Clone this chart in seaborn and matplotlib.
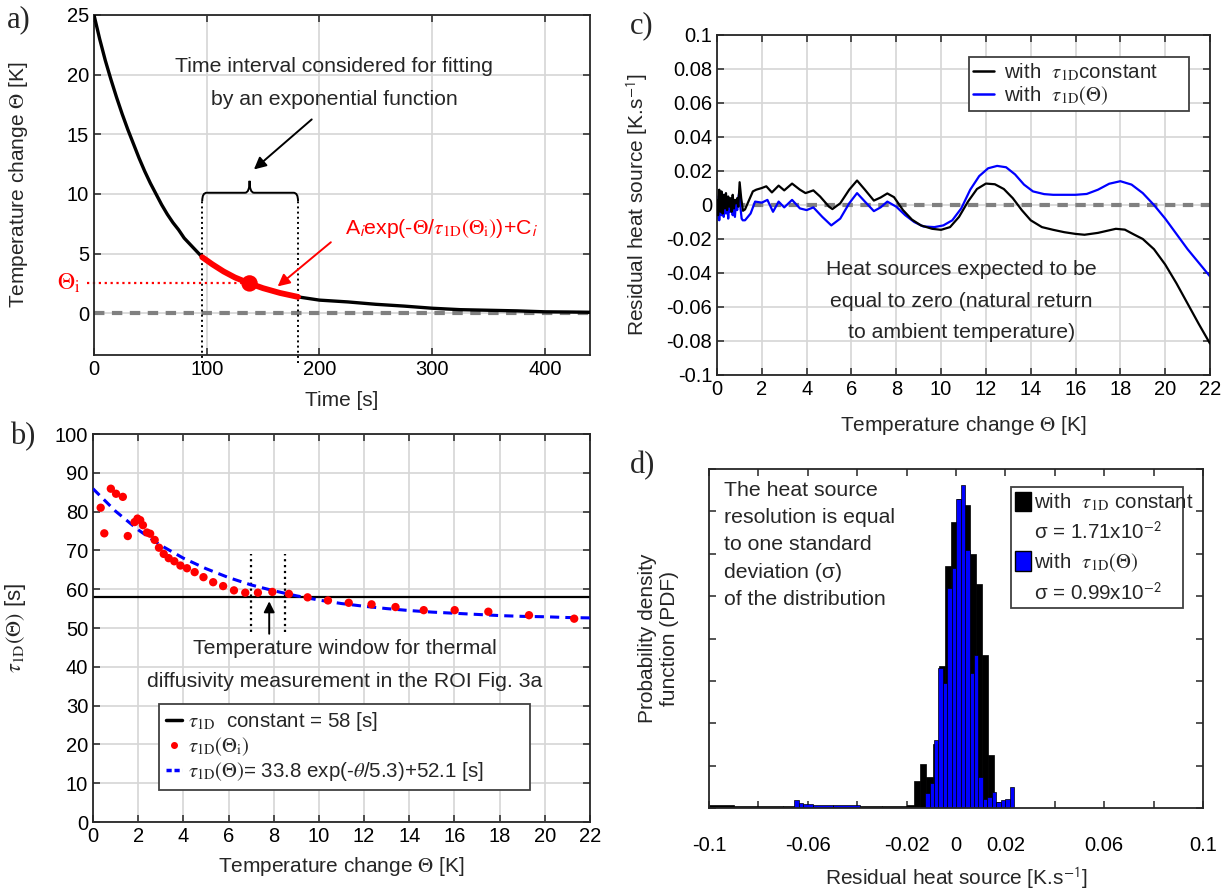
import numpy as np
import pandas as pd
import seaborn as sns
import matplotlib.pyplot as plt
from matplotlib.path import Path
from matplotlib.patches import PathPatch, Patch
from matplotlib.lines import Line2D
from matplotlib.ticker import FuncFormatter, NullFormatter


# a) natural cooling curve
time_s = [0, 5, 10, 15, 20, 25, 30, 35, 40, 45, 50, 55, 60, 65, 70, 75, 80, 85, 90, 96,
          105, 115, 125, 138, 150, 165, 181, 200, 225, 250, 275, 300, 325, 350, 375, 400,
          425, 440]
theta_K = [25.0, 23.0, 21.2, 19.6, 18.1, 16.7, 15.4, 14.2, 13.0, 11.9, 10.9, 10.0, 9.1,
           8.3, 7.6, 7.0, 6.3, 5.8, 5.3, 4.7, 4.1, 3.5, 3.0, 2.5, 2.1, 1.7, 1.37, 1.1, 0.95,
           0.75, 0.6, 0.42, 0.3, 0.25, 0.2, 0.12, 0.1, 0.08]
fit_start, fit_end = 96, 181
theta_i_time, theta_i = 138, 2.5

# b) time constant vs temperature change
tau_i_theta = [0.34, 0.50, 0.79, 1.02, 1.32, 1.54, 1.84, 1.97, 2.09, 2.21, 2.39, 2.53, 2.73,
               2.92, 3.13, 3.35, 3.60, 3.87, 4.16, 4.50, 4.89, 5.32, 5.76, 6.24, 6.74, 7.30,
               7.94, 8.67, 9.50, 10.4, 11.32, 12.33, 13.39, 14.64, 16.01, 17.5, 19.3, 21.3]
tau_i = [81.0, 74.4, 85.9, 84.6, 83.8, 73.7, 77.3, 78.2, 77.8, 76.5, 74.6, 74.3, 72.7,
         70.7, 69.1, 68.0, 67.2, 66.1, 65.4, 64.4, 63.1, 61.8, 60.8, 59.7, 59.1, 59.1,
         59.3, 58.8, 57.9, 57.1, 56.5, 56.1, 55.4, 54.6, 54.6, 54.2, 53.3, 52.4]
model_theta = list(range(0, 23))
model_tau = [85.9, 80.1, 75.3, 71.3, 68.0, 65.3, 63.0, 61.1, 59.6, 58.3, 57.2, 56.3,
             55.6, 55.0, 54.5, 54.1, 53.8, 53.5, 53.2, 53.0, 52.9, 52.7, 52.6]
tau_const = 58
window = [7.0, 8.5]

# c) residual heat source
c_theta_black = [0.0, 0.05, 0.1, 0.15, 0.2, 0.25, 0.3, 0.35, 0.4, 0.45, 0.5, 0.55, 0.6, 0.65,
                 0.7, 0.75, 0.8, 0.85, 0.9, 0.95, 1.01, 1.08, 1.16, 1.25, 1.6, 1.75, 2.0, 2.2,
                 2.45, 2.75, 3.0, 3.35, 3.7, 3.95, 4.3, 4.6, 5.0, 5.15, 5.5, 5.9, 6.25, 6.6,
                 7.0, 7.3, 7.6, 7.9, 8.3, 8.7, 9.1, 9.6, 10.0, 10.4, 10.8, 11.2, 11.6, 12.0,
                 12.4, 12.8, 13.2, 13.6, 14.0, 14.5, 15.0, 15.5, 16.0, 16.4, 17.0, 17.8, 18.2,
                 18.6, 19.0, 19.5, 20.0, 20.5, 21.0, 21.5, 22.0]
c_black = [0.003, -0.006, 0.009, -0.004, 0.008, -0.005, 0.006, -0.002, 0.007, -0.003, 0.005,
           -0.001, 0.004, -0.004, 0.006, -0.002, 0.003, 0.001, 0.004, -0.001, 0.0134, 0.004,
           -0.0034, -0.0026, 0.008, 0.009, 0.010, 0.011, 0.0074, 0.0114, 0.0086, 0.0126,
           0.009, 0.007, 0.0086, 0.005, -0.001, -0.0024, 0.001, 0.009, 0.0144, 0.009, 0.0026,
           0.0044, 0.0068, 0.0046, -0.003, -0.0086, -0.012, -0.014, -0.0146, -0.013, -0.007,
           0.002, 0.0094, 0.0126, 0.0122, 0.0094, 0.004, -0.003, -0.009, -0.013, -0.0146,
           -0.016, -0.017, -0.0175, -0.0164, -0.014, -0.0145, -0.0173, -0.020, -0.026, -0.035,
           -0.046, -0.058, -0.070, -0.0815]
c_theta_blue = [0.0, 0.05, 0.1, 0.15, 0.2, 0.25, 0.3, 0.35, 0.4, 0.45, 0.5, 0.55, 0.6, 0.65,
                0.7, 0.75, 0.8, 0.85, 0.9, 0.95, 1.0, 1.05, 1.1, 1.15, 1.25, 1.5, 1.7, 2.0,
                2.25, 2.5, 2.75, 3.0, 3.35, 3.7, 4.0, 4.3, 4.7, 5.1, 5.5, 5.9, 6.25, 6.6, 7.0,
                7.3, 7.6, 8.0, 8.4, 8.8, 9.2, 9.7, 10.1, 10.5, 10.9, 11.3, 11.7, 12.1, 12.5,
                12.9, 13.3, 13.7, 14.1, 14.6, 15.0, 16.0, 16.5, 17.0, 17.5, 18.0, 18.5, 19.0,
                19.5, 20.0, 20.5, 21.0, 21.5, 22.0]
c_blue = [-0.008, 0.005, -0.009, 0.007, -0.006, 0.004, -0.007, 0.006, -0.005, 0.003, -0.008,
          0.002, -0.004, 0.001, -0.006, 0.003, -0.007, 0.002, -0.003, 0.004, 0.008, -0.002,
          -0.008, -0.009, -0.009, -0.005, 0.002, 0.0014, 0.003, -0.004, 0.002, -0.0014, 0.003,
          -0.002, -0.003, -0.0014, -0.007, -0.012, -0.008, 0.001, 0.007, 0.002, -0.0036,
          -0.0014, 0.002, -0.001, -0.006, -0.010, -0.0126, -0.013, -0.012, -0.009, -0.002,
          0.009, 0.017, 0.0216, 0.023, 0.0222, 0.018, 0.012, 0.008, 0.0064, 0.006, 0.006,
          0.0065, 0.009, 0.0125, 0.014, 0.012, 0.007, 0.0, -0.008, -0.017, -0.026, -0.034,
          -0.042]

# d) histograms of residual heat source
black_edges = [-0.1, -0.09, -0.07, -0.05, -0.03, -0.02, -0.017, -0.0145, -0.012, -0.0095,
               -0.007, -0.0045, -0.002, 0.0005, 0.003, 0.0055, 0.008, 0.0105, 0.013, 0.0155,
               0.018]
black_pdf = [0.8, 0.5, 0.4, 0.4, 0.5, 0.8, 6.4, 10.5, 7.3, 15.0, 33.5, 57.0, 67.6, 73.0,
             71.5, 60.0, 52.9, 36.0, 12.5, 1.4]
blue_edges = [-0.0655, -0.0637, -0.0619, -0.058, -0.05, -0.0389, -0.0125, -0.0107, -0.0089,
              -0.0071, -0.0053, -0.0035, -0.0017, 0.0001, 0.0019, 0.0037, 0.0055, 0.0073,
              0.0091, 0.0109, 0.0127, 0.0145, 0.0163, 0.0181, 0.0199, 0.0217, 0.0235]
blue_pdf = [1.8, 1.2, 0.9, 0.7, 0.6, 0.0, 3.5, 5.8, 16.0, 33.0, 29.4, 51.9, 56.6, 73.0, 76.3,
            61.0, 31.8, 36.0, 7.3, 2.2, 2.6, 3.8, 1.4, 1.8, 2.2, 5.0]


sns.set_theme(style='ticks')
plt.rcParams['font.family'] = ['Liberation Sans', 'DejaVu Sans']
plt.rcParams['mathtext.fontset'] = 'stix'
plt.rcParams['axes.edgecolor'] = '#262626'

INK = '#262626'
GRID = '#d6d6d6'
ZERO_DASH = (0, (2.5, 1.8))
TICK_FS = 14.5
LABEL_FS = 15
NOTE_FS = 15.3
LEG_FS = 14.8


def matlab_box(ax, grid=True):
    ax.tick_params(direction='in', top=True, right=True, length=5, width=1.1,
                   labelsize=TICK_FS, colors=INK, labelcolor='black')
    for s in ax.spines.values():
        s.set_visible(True)
        s.set_linewidth(1.3)
        s.set_color(INK)
    if grid:
        ax.grid(True, color=GRID, lw=1.2)
    ax.set_axisbelow(True)


fig = plt.figure(figsize=(12.25, 8.9), dpi=100)

# ---------------- a)
ax_a = fig.add_axes([94 / 1225, 1 - 355 / 890, 496 / 1225, 340 / 890])
df_a = pd.DataFrame({'time': time_s, 'theta': theta_K})
fit = df_a[(df_a['time'] >= fit_start) & (df_a['time'] <= fit_end)]
ax_a.axhline(0, color='#808080', lw=3, ls=ZERO_DASH, zorder=1)
sns.lineplot(data=df_a, x='time', y='theta', color='black', lw=2.4, ax=ax_a, zorder=3)
sns.lineplot(data=fit, x='time', y='theta', color='red', lw=4.2, ax=ax_a, zorder=4)
sns.scatterplot(x=[theta_i_time], y=[theta_i], color='red', s=140, edgecolor='none', ax=ax_a,
                zorder=5)
ax_a.plot([-6, theta_i_time], [theta_i, theta_i], ls=':', color='red', lw=1.6, clip_on=False)
for t in (fit_start, fit_end):
    ax_a.plot([t, t], [-4.2, 9.4], ls=':', color='black', lw=1.4, clip_on=False)

# curly brace above the fitting interval
b0, b1, b2 = 9.4, 10.1, 11.1
r = 4
verts = [(fit_start, b0), (fit_start, b1), (fit_start + r, b1),
         (theta_i_time - r, b1), (theta_i_time, b1), (theta_i_time, b2),
         (theta_i_time, b1), (theta_i_time + r, b1),
         (fit_end - r, b1), (fit_end, b1), (fit_end, b0)]
codes = [Path.MOVETO, Path.CURVE3, Path.CURVE3, Path.LINETO, Path.CURVE3, Path.CURVE3,
         Path.CURVE3, Path.CURVE3, Path.LINETO, Path.CURVE3, Path.CURVE3]
ax_a.add_patch(PathPatch(Path(verts, codes), fc='none', ec='black', lw=1.4, zorder=4))

ax_a.text(213, 20.7, 'Time interval considered for fitting', ha='center', va='center',
          fontsize=NOTE_FS)
ax_a.text(213, 17.9, 'by an exponential function', ha='center', va='center', fontsize=NOTE_FS)
ax_a.annotate('', xy=(140, 11.9), xytext=(195, 16.4),
              arrowprops=dict(arrowstyle='-|>', color='black', lw=1.4, mutation_scale=18))
ax_a.text(223, 7.1,
          r'A$_{\mathsf{i}}$exp(-$\Theta$/$\tau_{\mathrm{1D}}(\Theta_{\mathrm{i}})$)+C$_{\mathsf{i}}$',
          color='red', fontsize=NOTE_FS, va='center')
ax_a.annotate('', xy=(161, 2.1), xytext=(212, 6.1),
              arrowprops=dict(arrowstyle='-|>', color='red', lw=1.4, mutation_scale=18))
ax_a.text(-12, theta_i, r'$\Theta_{\mathrm{i}}$', color='red', fontsize=17, ha='right',
          va='center', clip_on=False)

ax_a.set_xlim(0, 440)
ax_a.set_ylim(-3.5, 25)
ax_a.set_xticks([0, 100, 200, 300, 400])
ax_a.set_yticks([0, 5, 10, 15, 20, 25])
matlab_box(ax_a)
ax_a.set_xlabel('Time [s]', fontsize=LABEL_FS, color=INK)
ax_a.set_ylabel(r'Temperature change $\Theta$ [K]', fontsize=LABEL_FS, color=INK)
ax_a.yaxis.set_label_coords(-0.13, 0.5)
ax_a.xaxis.set_label_coords(0.5, -0.105)

# ---------------- b)
ax_b = fig.add_axes([93 / 1225, 1 - 822 / 890, 497 / 1225, 388 / 890])
ax_b.axhline(tau_const, color='black', lw=1.6, zorder=2)
sns.lineplot(x=model_theta, y=model_tau, color='blue', lw=2.2, linestyle=(0, (3, 2)),
             ax=ax_b, zorder=3)
sns.scatterplot(x=tau_i_theta, y=tau_i, color='red', s=36, edgecolor='none', ax=ax_b,
                zorder=4)
for w in window:
    ax_b.plot([w, w], [49, 69], ls=':', color='black', lw=1.6)
ax_b.annotate('', xy=(7.8, 57.6), xytext=(7.8, 47.8),
              arrowprops=dict(arrowstyle='-|>', color='black', lw=1.4, mutation_scale=16))
ax_b.text(11.15, 44.8, 'Temperature window for thermal', ha='center', va='center',
          fontsize=NOTE_FS)
ax_b.text(11.15, 36.3, 'diffusivity measurement in the ROI Fig. 3a', ha='center',
          va='center', fontsize=NOTE_FS)
handles_b = [Line2D([], [], color='black', lw=2.5),
             Line2D([], [], ls='none', marker='o', color='red', ms=4),
             Line2D([], [], color='blue', lw=2.5, ls=(0, (1.5, 0.8)))]
labels_b = [r'$\tau_{\mathrm{1D}}$  constant = 58 [s]',
            r'$\tau_{\mathrm{1D}}(\Theta_{\mathrm{i}})$',
            r'$\tau_{\mathrm{1D}}(\Theta)$= 33.8 exp(-$\theta$/5.3)+52.1 [s]']
leg = ax_b.legend(handles_b, labels_b, loc='lower left',
                  bbox_to_anchor=(0.113, 0.057, 0.786, 0.21), mode='expand', fontsize=LEG_FS,
                  handlelength=0.8, handletextpad=0.3, labelspacing=0.12, borderpad=0.3,
                  fancybox=False, framealpha=1, edgecolor='#404040')
leg.get_frame().set_linewidth(1.3)
ax_b.set_xlim(0, 22)
ax_b.set_ylim(0, 100)
ax_b.set_xticks(range(0, 23, 2))
ax_b.set_yticks(range(0, 101, 10))
matlab_box(ax_b)
ax_b.set_xlabel(r'Temperature change $\Theta$ [K]', fontsize=LABEL_FS, color=INK)
ax_b.set_ylabel(r'$\tau_{\mathrm{1D}}(\Theta)$ [s]', fontsize=16, color=INK)
ax_b.yaxis.set_label_coords(-0.13, 0.5)
ax_b.xaxis.set_label_coords(0.5, -0.085)

# ---------------- c)
ax_c = fig.add_axes([717 / 1225, 1 - 375 / 890, 493 / 1225, 340 / 890])
ax_c.axhline(0, color='#808080', lw=3, ls=ZERO_DASH, zorder=1)
sns.lineplot(x=c_theta_black, y=c_black, color='black', lw=1.6, ax=ax_c, zorder=3)
sns.lineplot(x=c_theta_blue, y=c_blue, color='blue', lw=1.6, ax=ax_c, zorder=2)
ax_c.text(10.9, -0.038, 'Heat sources expected to be', ha='center', va='center',
          fontsize=NOTE_FS)
ax_c.text(10.9, -0.057, 'equal to zero (natural return', ha='center', va='center',
          fontsize=NOTE_FS)
ax_c.text(10.9, -0.075, 'to ambient temperature)', ha='center', va='center', fontsize=NOTE_FS)
handles_c = [Line2D([], [], color='black', lw=1.8), Line2D([], [], color='blue', lw=1.8)]
labels_c = [r'with  $\tau_{\mathrm{1D}}$constant', r'with  $\tau_{\mathrm{1D}}(\Theta)$']
leg = ax_c.legend(handles_c, labels_c, loc='upper left',
                  bbox_to_anchor=(0.49, 0.818, 0.488, 0.147), mode='expand', fontsize=LEG_FS,
                  handlelength=1.0, handletextpad=0.5, labelspacing=0.05, borderpad=0.2,
                  fancybox=False, framealpha=1, edgecolor='#404040')
leg.get_frame().set_linewidth(1.3)
ax_c.set_xlim(0, 22)
ax_c.set_ylim(-0.1, 0.1)
ax_c.set_xticks(range(0, 23, 2))
ax_c.set_yticks(np.linspace(-0.1, 0.1, 11))
ax_c.yaxis.set_major_formatter(FuncFormatter(lambda v, _: '0' if abs(v) < 1e-9 else f'{v:g}'))
matlab_box(ax_c)
ax_c.set_xlabel(r'Temperature change $\Theta$ [K]', fontsize=LABEL_FS, color=INK)
ax_c.set_ylabel(r'Residual heat source [K.s$^{\mathsf{-1}}$]', fontsize=LABEL_FS, color=INK)
ax_c.yaxis.set_label_coords(-0.135, 0.5)
ax_c.xaxis.set_label_coords(0.5, -0.115)

# ---------------- d)
ax_d = fig.add_axes([709 / 1225, 1 - 808 / 890, 494 / 1225, 339 / 890])
black_mid = [(a + b) / 2 for a, b in zip(black_edges[:-1], black_edges[1:])]
blue_mid = [(a + b) / 2 for a, b in zip(blue_edges[:-1], blue_edges[1:])]
sns.histplot(x=black_mid, weights=black_pdf, bins=black_edges, color='black',
             edgecolor='black', linewidth=0.5, alpha=1, ax=ax_d)
sns.histplot(x=blue_mid, weights=blue_pdf, bins=blue_edges, color='#0000ff',
             edgecolor='black', linewidth=0.5, alpha=1, ax=ax_d)
ax_d.text(0.03, 0.965,
          'The heat source\nresolution is equal\nto one standard\ndeviation (\u03c3)\nof the distribution',
          transform=ax_d.transAxes, ha='left', va='top', fontsize=NOTE_FS, linespacing=1.55)
blank = Line2D([], [], ls='none')
handles_d = [Patch(fc='black', ec='black'), blank, Patch(fc='#0000ff', ec='black'), blank]
labels_d = [r'with  $\tau_{\mathrm{1D}}$ constant', '\u03c3 = 1.71x10$^{\mathsf{-2}}$',
            r'with  $\tau_{\mathrm{1D}}(\Theta)$', '\u03c3 = 0.99x10$^{\mathsf{-2}}$']
leg = ax_d.legend(handles_d, labels_d, loc='upper left',
                  bbox_to_anchor=(0.591, 0.608, 0.389, 0.368), mode='expand', fontsize=LEG_FS,
                  handlelength=0.75, handleheight=1.1, handletextpad=0.15, labelspacing=0.4,
                  borderpad=0.2, fancybox=False, framealpha=1, edgecolor='#404040')
leg.get_frame().set_linewidth(1.3)
ax_d.set_xlim(-0.1, 0.1)
ax_d.set_ylim(0, 80)
d_ticks = [-0.1, -0.08, -0.06, -0.04, -0.02, 0, 0.02, 0.04, 0.06, 0.08, 0.1]
d_labels = ['-0.1', '', '-0.06', '', '-0.02', '0', '0.02', '', '0.06', '', '0.1']
ax_d.set_xticks(d_ticks)
ax_d.set_xticklabels(d_labels)
ax_d.set_yticks(range(0, 81, 10))
ax_d.yaxis.set_major_formatter(NullFormatter())
matlab_box(ax_d, grid=False)
ax_d.tick_params(axis='x', pad=20)
ax_d.set_xlabel(r'Residual heat source [K.s$^{\mathsf{-1}}$]', fontsize=LABEL_FS, color=INK)
ax_d.set_ylabel('Probability density\nfunction (PDF)', fontsize=LABEL_FS, color=INK)
ax_d.yaxis.set_label_coords(-0.06, 0.5)
ax_d.xaxis.set_label_coords(0.5, -0.17)

# panel letters
for lab, x, y in [('a)', 7, 5), ('b)', 10, 422), ('c)', 630, 11), ('d)', 630, 451)]:
    fig.text(x / 1225, 1 - y / 890, lab, fontsize=22, family='Liberation Serif',
             ha='left', va='top')

fig.savefig('out.png', dpi=100)
